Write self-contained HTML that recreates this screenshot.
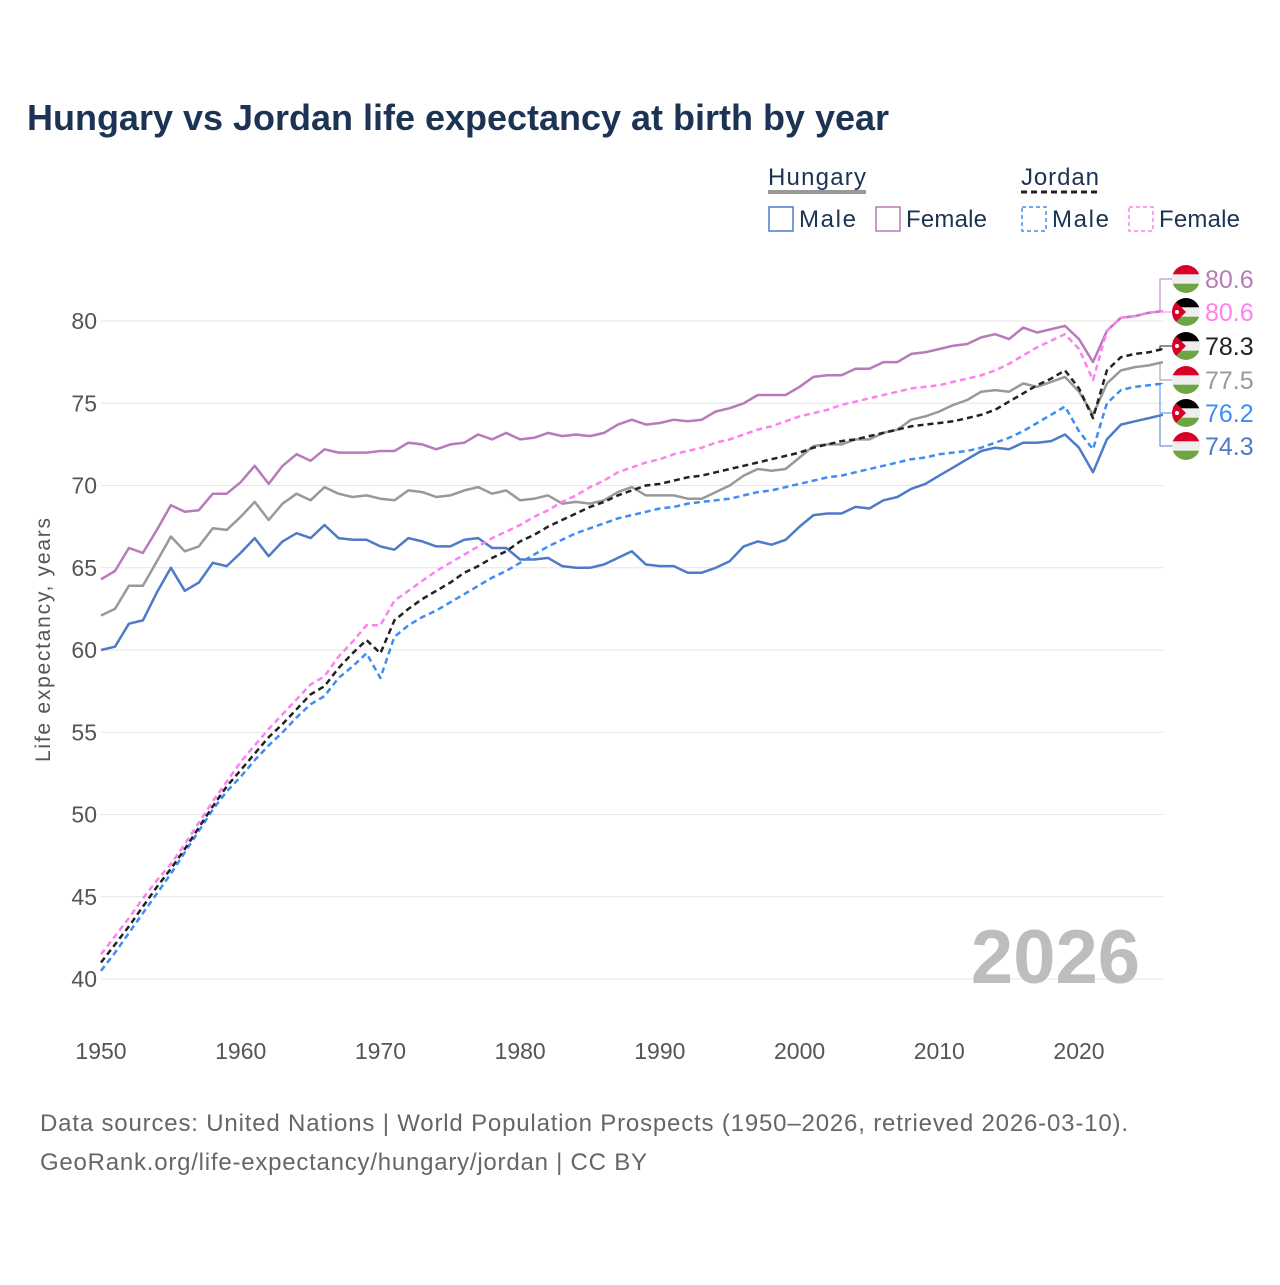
<!DOCTYPE html>
<html><head><meta charset="utf-8">
<style>
body{margin:0;background:#fff;font-family:"Liberation Sans",sans-serif;}
svg text{font-family:"Liberation Sans",sans-serif;}
</style></head>
<body>
<svg id="chart" width="1280" height="1280" viewBox="0 0 1280 1280" xmlns="http://www.w3.org/2000/svg">
<text x="27" y="130" font-size="36" font-weight="bold" fill="#1d3354" textLength="862">Hungary vs Jordan life expectancy at birth by year</text>
<g font-size="24" fill="#1d3354">
 <text x="768" y="185" fill="#1d3354" textLength="98">Hungary</text>
 <line x1="768" y1="192" x2="866" y2="192" stroke="#999" stroke-width="4"/>
 <text x="1021" y="185" fill="#1d3354" textLength="78">Jordan</text>
 <line x1="1021" y1="192" x2="1099" y2="192" stroke="#222" stroke-width="3" stroke-dasharray="6,4"/>
 <rect x="769" y="207" width="24" height="24" fill="none" stroke="#4e7ac7" stroke-width="1.5"/>
 <text x="799" y="227" fill="#1d3354" textLength="57">Male</text>
 <rect x="876" y="207" width="24" height="24" fill="none" stroke="#b87ab8" stroke-width="1.5"/>
 <text x="906" y="227" fill="#1d3354" textLength="81">Female</text>
 <rect x="1022" y="207" width="24" height="24" fill="none" stroke="#3d8df5" stroke-width="1.5" stroke-dasharray="4,3"/>
 <text x="1052" y="227" fill="#1d3354" textLength="57">Male</text>
 <rect x="1129" y="207" width="24" height="24" fill="none" stroke="#ff80f0" stroke-width="1.5" stroke-dasharray="4,3"/>
 <text x="1159" y="227" fill="#1d3354" textLength="81">Female</text>
</g>
<g id="grid"></g>
<text x="1140" y="983" font-size="76" font-weight="bold" fill="#bdbdbd" text-anchor="end">2026</text>
<g id="series"></g>
<g id="labels"></g>
<text transform="translate(50,640) rotate(-90)" font-size="21" fill="#555" text-anchor="middle" textLength="244">Life expectancy, years</text>
<text x="40" y="1131" font-size="24" fill="#666" textLength="1088">Data sources: United Nations | World Population Prospects (1950–2026, retrieved 2026-03-10).</text>
<text x="40" y="1170" font-size="24" fill="#666" textLength="607">GeoRank.org/life-expectancy/hungary/jordan | CC BY</text>
</svg>
<script>
const years = Array.from({length:77},(_,i)=>1950+i);
const yTicks = [40,45,50,55,60,65,70,75,80];
const xTicks = [1950,1960,1970,1980,1990,2000,2010,2020];
const hunMale = [60.0,60.2,61.6,61.8,63.5,65.0,63.6,64.1,65.3,65.1,65.9,66.8,65.7,66.6,67.1,66.8,67.6,66.8,66.7,66.7,66.3,66.1,66.8,66.6,66.3,66.3,66.7,66.8,66.2,66.2,65.5,65.5,65.6,65.1,65.0,65.0,65.2,65.6,66.0,65.2,65.1,65.1,64.7,64.7,65.0,65.4,66.3,66.6,66.4,66.7,67.5,68.2,68.3,68.3,68.7,68.6,69.1,69.3,69.8,70.1,70.6,71.1,71.6,72.1,72.3,72.2,72.6,72.6,72.7,73.1,72.3,70.8,72.8,73.7,73.9,74.1,74.3];
const hunFemale = [64.3,64.8,66.2,65.9,67.3,68.8,68.4,68.5,69.5,69.5,70.2,71.2,70.1,71.2,71.9,71.5,72.2,72.0,72.0,72.0,72.1,72.1,72.6,72.5,72.2,72.5,72.6,73.1,72.8,73.2,72.8,72.9,73.2,73.0,73.1,73.0,73.2,73.7,74.0,73.7,73.8,74.0,73.9,74.0,74.5,74.7,75.0,75.5,75.5,75.5,76.0,76.6,76.7,76.7,77.1,77.1,77.5,77.5,78.0,78.1,78.3,78.5,78.6,79.0,79.2,78.9,79.6,79.3,79.5,79.7,78.9,77.5,79.4,80.2,80.3,80.5,80.6];
const hunTotal = [62.1,62.5,63.9,63.9,65.4,66.9,66.0,66.3,67.4,67.3,68.1,69.0,67.9,68.9,69.5,69.1,69.9,69.5,69.3,69.4,69.2,69.1,69.7,69.6,69.3,69.4,69.7,69.9,69.5,69.7,69.1,69.2,69.4,68.9,69.0,68.9,69.1,69.6,69.9,69.4,69.4,69.4,69.2,69.2,69.6,70.0,70.6,71.0,70.9,71.0,71.7,72.4,72.5,72.5,72.8,72.8,73.2,73.4,74.0,74.2,74.5,74.9,75.2,75.7,75.8,75.7,76.2,76.0,76.3,76.6,75.7,74.3,76.2,77.0,77.2,77.3,77.5];
const jorFemale = [41.5,42.6,43.7,44.9,46.0,47.0,48.2,49.5,50.8,52.0,53.2,54.2,55.2,56.1,57.0,57.9,58.4,59.6,60.5,61.5,61.5,63.0,63.6,64.2,64.8,65.3,65.8,66.3,66.8,67.2,67.6,68.1,68.5,69.0,69.4,69.9,70.3,70.8,71.1,71.4,71.6,71.9,72.1,72.3,72.6,72.8,73.1,73.4,73.6,73.9,74.2,74.4,74.6,74.9,75.1,75.3,75.5,75.7,75.9,76.0,76.1,76.3,76.5,76.7,77.0,77.4,77.9,78.4,78.8,79.2,78.3,76.4,79.4,80.2,80.3,80.5,80.6];
const jorMale = [40.5,41.6,42.8,44.0,45.2,46.4,47.7,49.0,50.3,51.4,52.3,53.3,54.2,55.0,55.9,56.7,57.2,58.3,59.0,59.8,58.3,60.8,61.5,62.0,62.4,62.9,63.4,63.9,64.4,64.8,65.3,65.8,66.3,66.7,67.1,67.4,67.7,68.0,68.2,68.4,68.6,68.7,68.9,69.0,69.1,69.2,69.4,69.6,69.7,69.9,70.1,70.3,70.5,70.6,70.8,71.0,71.2,71.4,71.6,71.7,71.9,72.0,72.1,72.3,72.6,72.9,73.3,73.8,74.3,74.8,73.3,72.2,75.0,75.8,76.0,76.1,76.2];
const jorTotal = [41.0,42.1,43.2,44.4,45.6,46.7,47.9,49.2,50.5,51.7,52.7,53.7,54.7,55.5,56.4,57.3,57.8,58.9,59.8,60.6,59.8,61.8,62.5,63.1,63.6,64.1,64.7,65.1,65.6,66.0,66.6,67.0,67.5,67.9,68.3,68.7,69.0,69.4,69.7,70.0,70.1,70.3,70.5,70.6,70.8,71.0,71.2,71.4,71.6,71.8,72.0,72.3,72.5,72.7,72.8,73.0,73.2,73.4,73.6,73.7,73.8,73.9,74.1,74.3,74.6,75.1,75.6,76.1,76.5,77.0,75.9,74.1,77.0,77.8,78.0,78.1,78.3];

const NS="http://www.w3.org/2000/svg";
const xS = y => 101 + (y-1950)*(978/70);
const yS = v => 321 + (80-v)*16.45;
function mk(tag, attrs, parent){const e=document.createElementNS(NS,tag);for(const k in attrs)e.setAttribute(k,attrs[k]);parent.appendChild(e);return e;}
const grid=document.getElementById('grid');
yTicks.forEach(t=>{
  const l=mk('line',{x1:101,x2:1163,y1:yS(t),y2:yS(t),stroke:'#e6e6e6','stroke-width':1},grid);
  
  
  const tx=mk('text',{x:97,y:yS(t)+8,'font-size':23,fill:'#555','text-anchor':'end'},grid);
  tx.textContent=t;
  
  
});
xTicks.forEach(t=>{
  const tx=mk('text',{x:xS(t),y:1059,'font-size':23,fill:'#555','text-anchor':'middle'},grid);
  tx.textContent=t;
  
  
});
const series=[
 {name:'hungary-female',d:hunFemale,c:'#b87ab8',dash:null},
 {name:'hungary-total',d:hunTotal,c:'#999999',dash:null},
 {name:'hungary-male',d:hunMale,c:'#4e7ac7',dash:null},
 {name:'jordan-female',d:jorFemale,c:'#ff80f0',dash:'6,4'},
 {name:'jordan-male',d:jorMale,c:'#3d8df5',dash:'6,4'},
 {name:'jordan-total',d:jorTotal,c:'#222222',dash:'6,4'}
];
const sg=document.getElementById('series');
series.forEach(s=>{
  const pts=s.d.map((v,i)=>xS(years[i]).toFixed(1)+','+yS(v).toFixed(1)).join(' ');
  const p=mk('polyline',{points:pts,fill:'none',stroke:s.c,'stroke-width':2.5,'stroke-linejoin':'round'},sg);
  if(s.dash)p.setAttribute('stroke-dasharray',s.dash);
  
  
});
const labels=[
 {s:hunFemale,c:'#b87ab8',flag:'hu',y:279},
 {s:jorFemale,c:'#ff80f0',flag:'jo',y:312},
 {s:jorTotal,c:'#222222',flag:'jo',y:346},
 {s:hunTotal,c:'#999999',flag:'hu',y:380},
 {s:jorMale,c:'#3d8df5',flag:'jo',y:413},
 {s:hunMale,c:'#4e7ac7',flag:'hu',y:446}
];
const lg=document.getElementById('labels');
labels.forEach((L,i)=>{
  const v=L.s[L.s.length-1], ly=yS(v);
  const br=mk('polyline',{points:`1163,${ly} 1160,${ly} 1160,${L.y} 1172,${L.y}`,fill:'none',stroke:L.c,'stroke-width':1},lg);
  
  
  const g=mk('g',{},lg);
  
  
  const cid='clip'+i;
  const cp=mk('clipPath',{id:cid},g); mk('circle',{cx:1186,cy:L.y,r:14},cp);
  const fg=mk('g',{'clip-path':`url(#${cid})`},g);
  if(L.flag==='hu'){
    mk('rect',{x:1172,y:L.y-14,width:28,height:9.5,fill:'#d80027'},fg);
    mk('rect',{x:1172,y:L.y-4.7,width:28,height:9.4,fill:'#eeeeee'},fg);
    mk('rect',{x:1172,y:L.y+4.7,width:28,height:9.5,fill:'#6da544'},fg);
  } else {
    mk('rect',{x:1172,y:L.y-14,width:28,height:9.5,fill:'#000'},fg);
    mk('rect',{x:1172,y:L.y-4.7,width:28,height:9.4,fill:'#eeeeee'},fg);
    mk('rect',{x:1172,y:L.y+4.7,width:28,height:9.5,fill:'#6da544'},fg);
    mk('polygon',{points:`1172,${L.y-14} 1186,${L.y} 1172,${L.y+14}`,fill:'#d80027'},fg);
    mk('circle',{cx:1177,cy:L.y,r:2,fill:'#fff'},fg);
  }
  const t=mk('text',{x:1205,y:L.y+9,'font-size':25,fill:L.c},lg);
  t.textContent=v.toFixed(1);
  
  
});
</script>
</body></html>
